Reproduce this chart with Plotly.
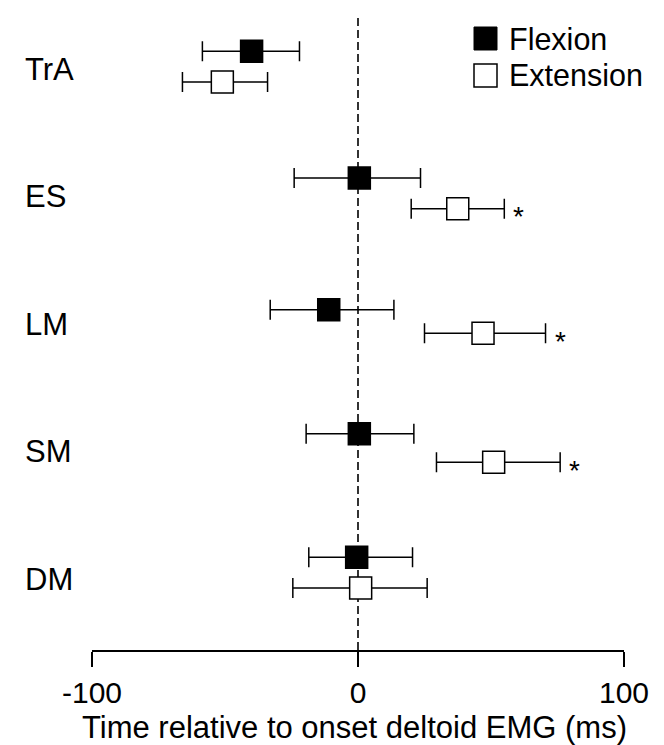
import plotly.graph_objects as go

# ---------------- data ----------------
muscles = ["TrA", "ES", "LM", "SM", "DM"]
series_names = ["Flexion", "Extension"]

flex_mean = [-40, 0.5, -11, 0.5, -0.5]
flex_err_minus = [18.5, 24.5, 22, 20, 18]
flex_err_plus = [18, 23, 24.5, 20.5, 21]

ext_mean = [-51, 37.5, 47, 51, 1]
ext_err_minus = [15, 17.5, 22, 21.5, 25.5]
ext_err_plus = [17, 17.5, 23.5, 25, 25]

ext_significant = [False, True, True, True, False]

x_tick_values = [-100, 0, 100]
x_tick_labels = ["-100", "0", "100"]
x_title = "Time relative to onset deltoid EMG (ms)"

# ---------------- layout helpers ----------------
W, H = 664, 745
M_L, M_R, M_T, M_B = 84, 48, 0, 103
PW, PH = W - M_L - M_R, H - M_T - M_B

# vertical placement of each row (in muscle-slot units)
flex_offset = [-0.139, -0.145, -0.112, -0.140, -0.170]
ext_offset = [0.102, 0.096, 0.073, 0.085, 0.071]
slot_px = 127.5
first_px = 61.0
y_range = [(PH - first_px) / slot_px, -first_px / slot_px]

flex_y = [i + o for i, o in enumerate(flex_offset)]
ext_y = [i + o for i, o in enumerate(ext_offset)]

FONT = "Liberation Sans, Arial, Helvetica, sans-serif"


def px_x(p):
    return (p - M_L) / PW


def px_y(p):
    return 1 - (p - M_T) / PH


fig = go.Figure()

fig.add_trace(go.Scatter(
    x=flex_mean, y=flex_y, mode="markers", name=series_names[0],
    marker=dict(symbol="square", size=22, color="black",
                line=dict(color="black", width=1.5)),
    error_x=dict(type="data", symmetric=False, array=flex_err_plus,
                 arrayminus=flex_err_minus, color="black",
                 thickness=1.5, width=10),
    showlegend=False,
))

fig.add_trace(go.Scatter(
    x=ext_mean, y=ext_y, mode="markers", name=series_names[1],
    marker=dict(symbol="square", size=22, color="white",
                line=dict(color="black", width=1.5)),
    error_x=dict(type="data", symmetric=False, array=ext_err_plus,
                 arrayminus=ext_err_minus, color="black",
                 thickness=1.5, width=10),
    showlegend=False,
))

shapes = [
    dict(type="line", xref="x", yref="paper", x0=0, x1=0,
         y0=0, y1=px_y(8), layer="below",
         line=dict(color="black", width=1.6, dash="8px,4px")),
    # legend squares
    dict(type="rect", xref="paper", yref="paper",
         x0=px_x(466), x1=px_x(489), y0=px_y(19), y1=px_y(42),
         fillcolor="black", line=dict(color="black", width=1)),
    dict(type="rect", xref="paper", yref="paper",
         x0=px_x(466), x1=px_x(489), y0=px_y(56), y1=px_y(79),
         fillcolor="white", line=dict(color="black", width=1.5)),
]

annotations = []
# legend texts
for name, yc in zip(series_names, [31, 67]):
    annotations.append(dict(
        text=name, xref="paper", yref="paper", x=px_x(499), y=px_y(yc),
        xanchor="left", yanchor="middle", showarrow=False,
        font=dict(family=FONT, size=30.5, color="black")))

# muscle labels
for i, m in enumerate(muscles):
    annotations.append(dict(
        text=m, xref="paper", yref="y", x=px_x(15), y=i,
        xanchor="left", yanchor="middle", showarrow=False,
        font=dict(family=FONT, size=31, color="black")))

# significance asterisks
for i, sig in enumerate(ext_significant):
    if sig:
        annotations.append(dict(
            text="*", xref="x", yref="y",
            x=ext_mean[i] + ext_err_plus[i], y=ext_y[i],
            xanchor="left", yanchor="middle", showarrow=False,
            xshift=7, yshift=-8,
            font=dict(family=FONT, size=28, color="black")))

# axis title
annotations.append(dict(
    text=x_title, xref="paper", yref="paper",
    x=px_x(346), y=px_y(719), xanchor="center", yanchor="middle",
    showarrow=False, font=dict(family=FONT, size=31, color="black")))

fig.update_layout(
    width=W, height=H,
    margin=dict(l=M_L, r=M_R, t=M_T, b=M_B, pad=0),
    paper_bgcolor="white", plot_bgcolor="white",
    font=dict(family=FONT, size=30, color="black"),
    shapes=shapes, annotations=annotations,
    xaxis=dict(
        range=[-100, 100], showgrid=False, zeroline=False,
        showline=True, linecolor="black", linewidth=1.6,
        ticks="outside", ticklen=15, tickwidth=1.6, tickcolor="black",
        tickvals=x_tick_values, ticktext=x_tick_labels,
        tickfont=dict(family=FONT, size=30, color="black"),
    ),
    yaxis=dict(range=y_range, visible=False, showgrid=False, zeroline=False),
)

fig.write_html("out.html")
